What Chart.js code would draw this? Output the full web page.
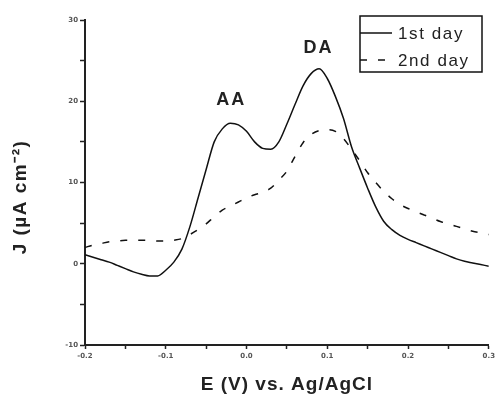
<!DOCTYPE html>
<html>
<head>
<meta charset="utf-8">
<script src="https://cdn.jsdelivr.net/npm/chart.js@4.4.1/dist/chart.umd.min.js"></script>
<style>
  html, body { margin: 0; padding: 0; background: #fff; }
  #wrap { width: 498px; height: 396px; }
</style>
</head>
<body>
<div id="wrap"><canvas id="cv" width="498" height="396"></canvas></div>
<script>
// Potential (V vs. Ag/AgCl)
const potential = [
  -0.20, -0.19, -0.18, -0.17, -0.16, -0.15, -0.14, -0.13, -0.12, -0.11,
  -0.10, -0.09, -0.08, -0.07, -0.06, -0.05, -0.04, -0.03, -0.02, -0.01,
   0.00,  0.01,  0.02,  0.03,  0.04,  0.05,  0.06,  0.07,  0.08,  0.09,
   0.10,  0.11,  0.12,  0.13,  0.14,  0.15,  0.16,  0.17,  0.18,  0.19,
   0.20,  0.21,  0.22,  0.23,  0.24,  0.25,  0.26,  0.27,  0.28,  0.29, 0.30
];

// Current density J (uA cm-2)
const day1 = [
   1.1,  0.8,  0.5,  0.2, -0.2, -0.6, -1.0, -1.3, -1.5, -1.5,
  -0.8,  0.2,  1.8,  4.6,  8.1, 11.6, 15.0, 16.6, 17.3, 17.1,
  16.3, 15.0, 14.2, 14.1, 15.0, 17.2, 19.6, 21.9, 23.4, 24.0,
  22.8, 20.6, 17.9, 14.4, 11.8,  9.3,  7.0,  5.2,  4.2,  3.5,
   3.0,  2.6,  2.2,  1.8,  1.4,  1.0,  0.6,  0.3,  0.1, -0.1, -0.3
];

const day2 = [
   2.0,  2.3,  2.5,  2.7,  2.8,  2.9,  2.9,  2.9,  2.9,  2.8,
   2.8,  2.9,  3.1,  3.6,  4.2,  4.9,  5.8,  6.6,  7.1,  7.6,
   8.1,  8.5,  8.8,  9.3, 10.3, 11.4, 13.2, 14.9, 15.9, 16.4,
  16.5, 16.3, 15.4, 14.1, 12.7, 11.2, 10.0,  8.9,  8.0,  7.3,
   6.8,  6.4,  6.0,  5.6,  5.2,  4.9,  4.6,  4.3,  4.0,  3.8, 3.6
];

const seriesNames = ['1st day', '2nd day'];
const peakLabels = [
  { text: 'AA', x: -0.020, y: 20.2 },
  { text: 'DA', x: 0.088, y: 26.6 }
];

const toPoints = ys => ys.map((y, i) => ({ x: potential[i], y: y }));

// draws legend box, peak labels and axis titles
const overlay = {
  id: 'overlay',
  afterDraw(chart) {
    const ctx = chart.ctx;
    const xs = chart.scales.x, ys = chart.scales.y;
    ctx.save();
    ctx.fillStyle = '#222';
    ctx.textAlign = 'center';
    ctx.textBaseline = 'middle';

    // peak labels
    ctx.font = 'bold 18px "Liberation Sans", Arial, sans-serif';
    ctx.letterSpacing = '2px';
    peakLabels.forEach(p => {
      ctx.fillText(p.text, xs.getPixelForValue(p.x) + 1, ys.getPixelForValue(p.y));
    });

    // axis titles
    ctx.font = 'bold 19px "Liberation Sans", Arial, sans-serif';
    ctx.letterSpacing = '1px';
    ctx.fillText('E (V) vs. Ag/AgCl', (chart.chartArea.left + chart.chartArea.right) / 2, 385);
    ctx.save();
    ctx.translate(21, 197);
    ctx.rotate(-Math.PI / 2);
    ctx.letterSpacing = '1.5px';
    ctx.fillText('J (\u00b5A cm\u207b\u00b2)', 0, 0);
    ctx.restore();

    // legend
    const lx = 360, ly = 16, lw = 122, lh = 56;
    ctx.strokeStyle = '#111';
    ctx.lineWidth = 1.5;
    ctx.strokeRect(lx, ly, lw, lh);
    ctx.font = '17px "Liberation Sans", Arial, sans-serif';
    ctx.letterSpacing = '1.6px';
    ctx.textAlign = 'left';
    seriesNames.forEach((name, i) => {
      const yy = ly + 17 + i * 27;
      const ds = chart.data.datasets[i];
      ctx.beginPath();
      ctx.setLineDash(ds.borderDash || []);
      ctx.lineWidth = 1.5;
      ctx.moveTo(lx, yy);
      ctx.lineTo(lx + 32, yy);
      ctx.stroke();
      ctx.setLineDash([]);
      ctx.fillText(name, lx + 38, yy + 1);
    });
    ctx.restore();
  }
};

new Chart(document.getElementById('cv'), {
  type: 'line',
  data: {
    datasets: [
      {
        label: seriesNames[0],
        data: toPoints(day1),
        borderColor: '#111',
        borderWidth: 1.5,
        pointRadius: 0,
        cubicInterpolationMode: 'monotone'
      },
      {
        label: seriesNames[1],
        data: toPoints(day2),
        borderColor: '#111',
        borderWidth: 1.5,
        borderDash: [7, 11],
        pointRadius: 0,
        cubicInterpolationMode: 'monotone'
      }
    ]
  },
  options: {
    responsive: false,
    animation: false,
    layout: { padding: { left: 0, top: 20, right: 5, bottom: 0 } },
    plugins: { legend: { display: false }, tooltip: { enabled: false } },
    scales: {
      x: {
        type: 'linear',
        min: -0.2,
        max: 0.3,
        afterFit: s => { s.height = 51; },
        border: { display: true, color: '#222', width: 2 },
        grid: { drawOnChartArea: false, tickLength: 4, color: '#222', tickWidth: 1.5 },
        ticks: {
          stepSize: 0.05,
          maxRotation: 0,
          autoSkip: false,
          padding: 3,
          color: '#555',
          font: { family: 'DejaVu Sans', size: 7, weight: 'bold' },
          callback: v => (Math.abs(v * 10 - Math.round(v * 10)) < 1e-6 ? v.toFixed(1) : '')
        }
      },
      y: {
        min: -10,
        max: 30,
        afterFit: s => { s.width = 85; },
        border: { display: true, color: '#222', width: 2 },
        grid: { drawOnChartArea: false, tickLength: 5, color: '#222', tickWidth: 1.5 },
        ticks: {
          stepSize: 5,
          autoSkip: false,
          padding: 2,
          color: '#555',
          font: { family: 'DejaVu Sans', size: 7, weight: 'bold' },
          callback: v => (v % 10 === 0 ? String(v) : '')
        }
      }
    }
  },
  plugins: [overlay]
});
</script>
</body>
</html>
